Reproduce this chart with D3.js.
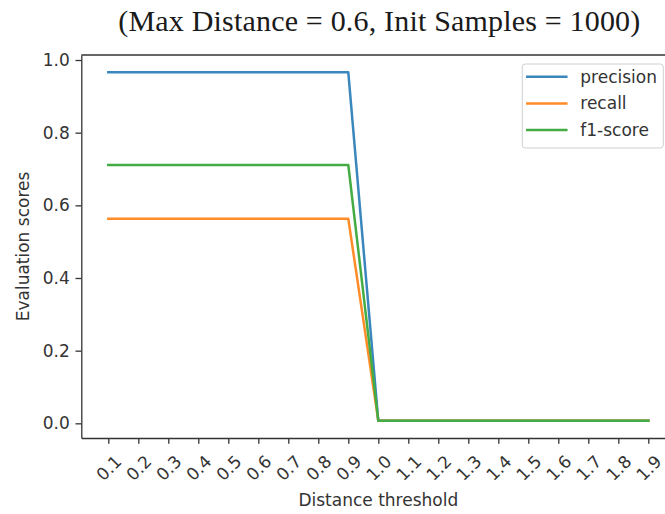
<!DOCTYPE html>
<html>
<head>
<meta charset="utf-8">
<script src="https://cdn.jsdelivr.net/npm/d3@7"></script>
<style>
  body { margin: 0; background: #fff; }
  svg { display: block; }
</style>
</head>
<body>
<svg id="chart" width="665" height="514"></svg>
<script>
// data
const thresholds = [0.1, 0.2, 0.3, 0.4, 0.5, 0.6, 0.7, 0.8, 0.9, 1.0, 1.1, 1.2, 1.3, 1.4, 1.5, 1.6, 1.7, 1.8, 1.9];
const tickLabels = ["0.1", "0.2", "0.3", "0.4", "0.5", "0.6", "0.7", "0.8", "0.9", "1.0", "1.1", "1.2", "1.3", "1.4", "1.5", "1.6", "1.7", "1.8", "1.9"];
const precision = [0.966, 0.966, 0.966, 0.966, 0.966, 0.966, 0.966, 0.966, 0.966, 0.007, 0.007, 0.007, 0.007, 0.007, 0.007, 0.007, 0.007, 0.007, 0.007];
const recall    = [0.563, 0.563, 0.563, 0.563, 0.563, 0.563, 0.563, 0.563, 0.563, 0.007, 0.007, 0.007, 0.007, 0.007, 0.007, 0.007, 0.007, 0.007, 0.007];
const f1score   = [0.711, 0.711, 0.711, 0.711, 0.711, 0.711, 0.711, 0.711, 0.711, 0.007, 0.007, 0.007, 0.007, 0.007, 0.007, 0.007, 0.007, 0.007, 0.007];
const yTicks = [0.0, 0.2, 0.4, 0.6, 0.8, 1.0];

const series = [
  { name: "precision", values: precision, color: "#3a87be" },
  { name: "recall", values: recall, color: "#ff8c28" },
  { name: "f1-score", values: f1score, color: "#44ac44" }
];

const svg = d3.select("#chart");
const font = "'DejaVu Sans', sans-serif";
const ink = "#333";

// plot area (right spine falls outside the cropped picture)
const plotLeft = 81.3, plotRight = 675.3, plotTop = 55, plotBottom = 438;

const x = d3.scaleLinear().domain([0.01, 1.99]).range([plotLeft, plotRight]);
const y = d3.scaleLinear().domain([-0.0404, 1.0138]).range([plotBottom, plotTop]);

// title
svg.append("text")
  .attr("x", (plotLeft + plotRight) / 2 + 1)
  .attr("y", 31)
  .attr("text-anchor", "middle")
  .attr("textLength", 522)
  .attr("lengthAdjust", "spacing")
  .style("font-family", "'Liberation Serif', 'DejaVu Serif', serif")
  .style("font-size", "30px")
  .style("fill", "#1a1a1a")
  .text("(Max Distance = 0.6, Init Samples = 1000)");

// y axis
const yAxis = svg.append("g")
  .attr("transform", `translate(${plotLeft},0)`)
  .call(d3.axisLeft(y).tickValues(yTicks).tickFormat(d3.format(".1f"))
    .tickSize(5.8).tickSizeOuter(0).tickPadding(5.8));

// x axis
const xAxis = svg.append("g")
  .attr("transform", `translate(0,${plotBottom})`)
  .call(d3.axisBottom(x).tickValues(thresholds).tickFormat((d, i) => tickLabels[i])
    .tickSize(5.8).tickSizeOuter(0).tickPadding(0));

xAxis.selectAll(".tick text")
  .attr("y", null)
  .attr("dy", null)
  .attr("text-anchor", "middle")
  .attr("dominant-baseline", "central")
  .attr("transform", "translate(0,30) rotate(-45)");

[yAxis, xAxis].forEach(g => {
  g.selectAll("text").style("font-family", font).style("font-size", "17px").style("fill", ink);
  g.selectAll("line").attr("stroke", ink).attr("stroke-width", 1.3);
  g.select(".domain").attr("stroke", ink).attr("stroke-width", 1.3);
});

// top spine
svg.append("line")
  .attr("x1", plotLeft).attr("x2", plotRight)
  .attr("y1", plotTop).attr("y2", plotTop)
  .attr("stroke", ink).attr("stroke-width", 1.3);

// axis labels
svg.append("text")
  .attr("x", (plotLeft + plotRight) / 2)
  .attr("y", 506)
  .attr("text-anchor", "middle")
  .style("font-family", font).style("font-size", "17px").style("fill", ink)
  .text("Distance threshold");

svg.append("text")
  .attr("transform", `translate(29,${(plotTop + plotBottom) / 2}) rotate(-90)`)
  .attr("text-anchor", "middle")
  .style("font-family", font).style("font-size", "17px").style("fill", ink)
  .text("Evaluation scores");

// lines
const line = d3.line()
  .x((d, i) => x(thresholds[i]))
  .y(d => y(d));

svg.append("g")
  .selectAll("path")
  .data(series)
  .join("path")
  .attr("d", d => line(d.values))
  .attr("fill", "none")
  .attr("stroke", d => d.color)
  .attr("stroke-width", 2.5)
  .attr("stroke-linejoin", "round")
  .attr("stroke-linecap", "square");

// legend
const legend = svg.append("g").attr("transform", `translate(${plotRight - 153},64)`);
legend.append("rect")
  .attr("width", 141).attr("height", 84)
  .attr("rx", 3)
  .attr("fill", "#fff").attr("fill-opacity", 0.8)
  .attr("stroke", "#d0d0d0").attr("stroke-width", 1);

const items = legend.selectAll("g.item")
  .data(series)
  .join("g")
  .attr("class", "item")
  .attr("transform", (d, i) => `translate(0,${12.7 + i * 26.7})`);

items.append("line")
  .attr("x1", 5).attr("x2", 44)
  .attr("stroke", d => d.color)
  .attr("stroke-width", 2.5)
  .attr("stroke-linecap", "square");

items.append("text")
  .attr("x", 58)
  .attr("dominant-baseline", "central")
  .style("font-family", font).style("font-size", "17px").style("fill", ink)
  .text(d => d.name);
</script>
</body>
</html>
